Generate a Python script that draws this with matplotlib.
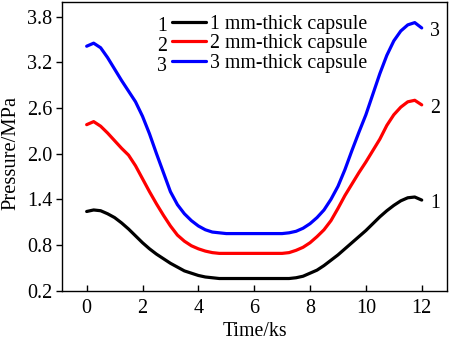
import numpy as np
import matplotlib
matplotlib.use("Agg")
import matplotlib.pyplot as plt

plt.rcParams['font.family'] = ['Liberation Serif', 'DejaVu Serif']
plt.rcParams['font.size'] = 14.3

# pressure (MPa) sampled every 0.25 ks for each capsule thickness
time_ks = np.arange(0, 12.01, 0.25)
p_1mm = [1.24, 1.26, 1.25, 1.21, 1.16, 1.09, 1.01, 0.92, 0.83, 0.75,
         0.68, 0.62, 0.56, 0.51, 0.46, 0.43, 0.40, 0.38, 0.37, 0.36,
         0.36, 0.36, 0.36, 0.36, 0.36, 0.36, 0.36, 0.36, 0.36,
         0.36, 0.37, 0.39, 0.43, 0.47, 0.53, 0.60, 0.67, 0.75, 0.83,
         0.91, 0.99, 1.08, 1.17, 1.25, 1.32, 1.38, 1.42, 1.43, 1.39]
p_2mm = [2.38, 2.42, 2.36, 2.27, 2.17, 2.07, 1.98, 1.84, 1.67, 1.50,
         1.34, 1.19, 1.05, 0.93, 0.85, 0.79, 0.75, 0.72, 0.70, 0.69,
         0.69, 0.69, 0.69, 0.69, 0.69, 0.69, 0.69, 0.69, 0.69,
         0.70, 0.73, 0.77, 0.83, 0.91, 1.00, 1.12, 1.28, 1.45, 1.60,
         1.75, 1.89, 2.04, 2.19, 2.37, 2.51, 2.61, 2.68, 2.70, 2.64]
p_3mm = [3.41, 3.45, 3.39, 3.26, 3.11, 2.96, 2.82, 2.68, 2.49, 2.26,
         2.00, 1.75, 1.50, 1.33, 1.21, 1.12, 1.05, 1.00, 0.97, 0.96,
         0.95, 0.95, 0.95, 0.95, 0.95, 0.95, 0.95, 0.95, 0.95,
         0.96, 0.98, 1.02, 1.08, 1.16, 1.26, 1.40, 1.57, 1.79, 2.04,
         2.28, 2.51, 2.78, 3.05, 3.29, 3.48, 3.61, 3.69, 3.72, 3.65]

series = [('1', '1 mm-thick capsule', p_1mm, 'black'),
          ('2', '2 mm-thick capsule', p_2mm, '#ff0000'),
          ('3', '3 mm-thick capsule', p_3mm, '#0000ff')]

fig = plt.figure(figsize=(4.5, 3.4), dpi=100)
ax = fig.add_axes([0.138, 0.145, 0.855, 0.849])

handles = []
for num, label, p, color in series:
    h, = ax.plot(time_ks, p, color=color, lw=2.3, label=label,
                 solid_capstyle='round', solid_joinstyle='round')
    handles.append(h)
    # curve number at the right end
    ax.text(12.3, p[-1] - 0.05, num, ha='left', va='center')

ax.set_xlim(-0.88, 12.9)
ax.set_ylim(0.2, 3.99)
ax.set_xticks(np.arange(0, 13, 2))
ax.set_yticks([0.2, 0.8, 1.4, 2.0, 2.6, 3.2, 3.8])
ax.yaxis.set_major_formatter(matplotlib.ticker.FormatStrFormatter('%.1f'))
ax.tick_params(axis='x', direction='in', length=4, width=1, pad=6, labelsize=14.5)
ax.tick_params(axis='y', direction='out', length=4, width=1, pad=3, labelsize=14.5)
for s in ax.spines.values():
    s.set_linewidth(1.0)

ax.set_xlabel('Time/ks', fontsize=14.3)
ax.xaxis.set_label_coords(0.5, -0.108)
ax.set_ylabel('Pressure/MPa', fontsize=14.8)
ax.yaxis.set_label_coords(-0.108, 0.477)

leg = ax.legend(handles=handles, loc='upper left', bbox_to_anchor=(0.285, 0.955),
                frameon=False, borderpad=0, borderaxespad=0, handlelength=1.7,
                handletextpad=0.25, labelspacing=0.02)

# curve numbers to the left of the legend handles
for (num, label, p, color), y in zip(series, [3.67, 3.41, 3.15]):
    ax.text(2.7, y, num, ha='center', va='center')

fig.savefig('out.png', dpi=100)
